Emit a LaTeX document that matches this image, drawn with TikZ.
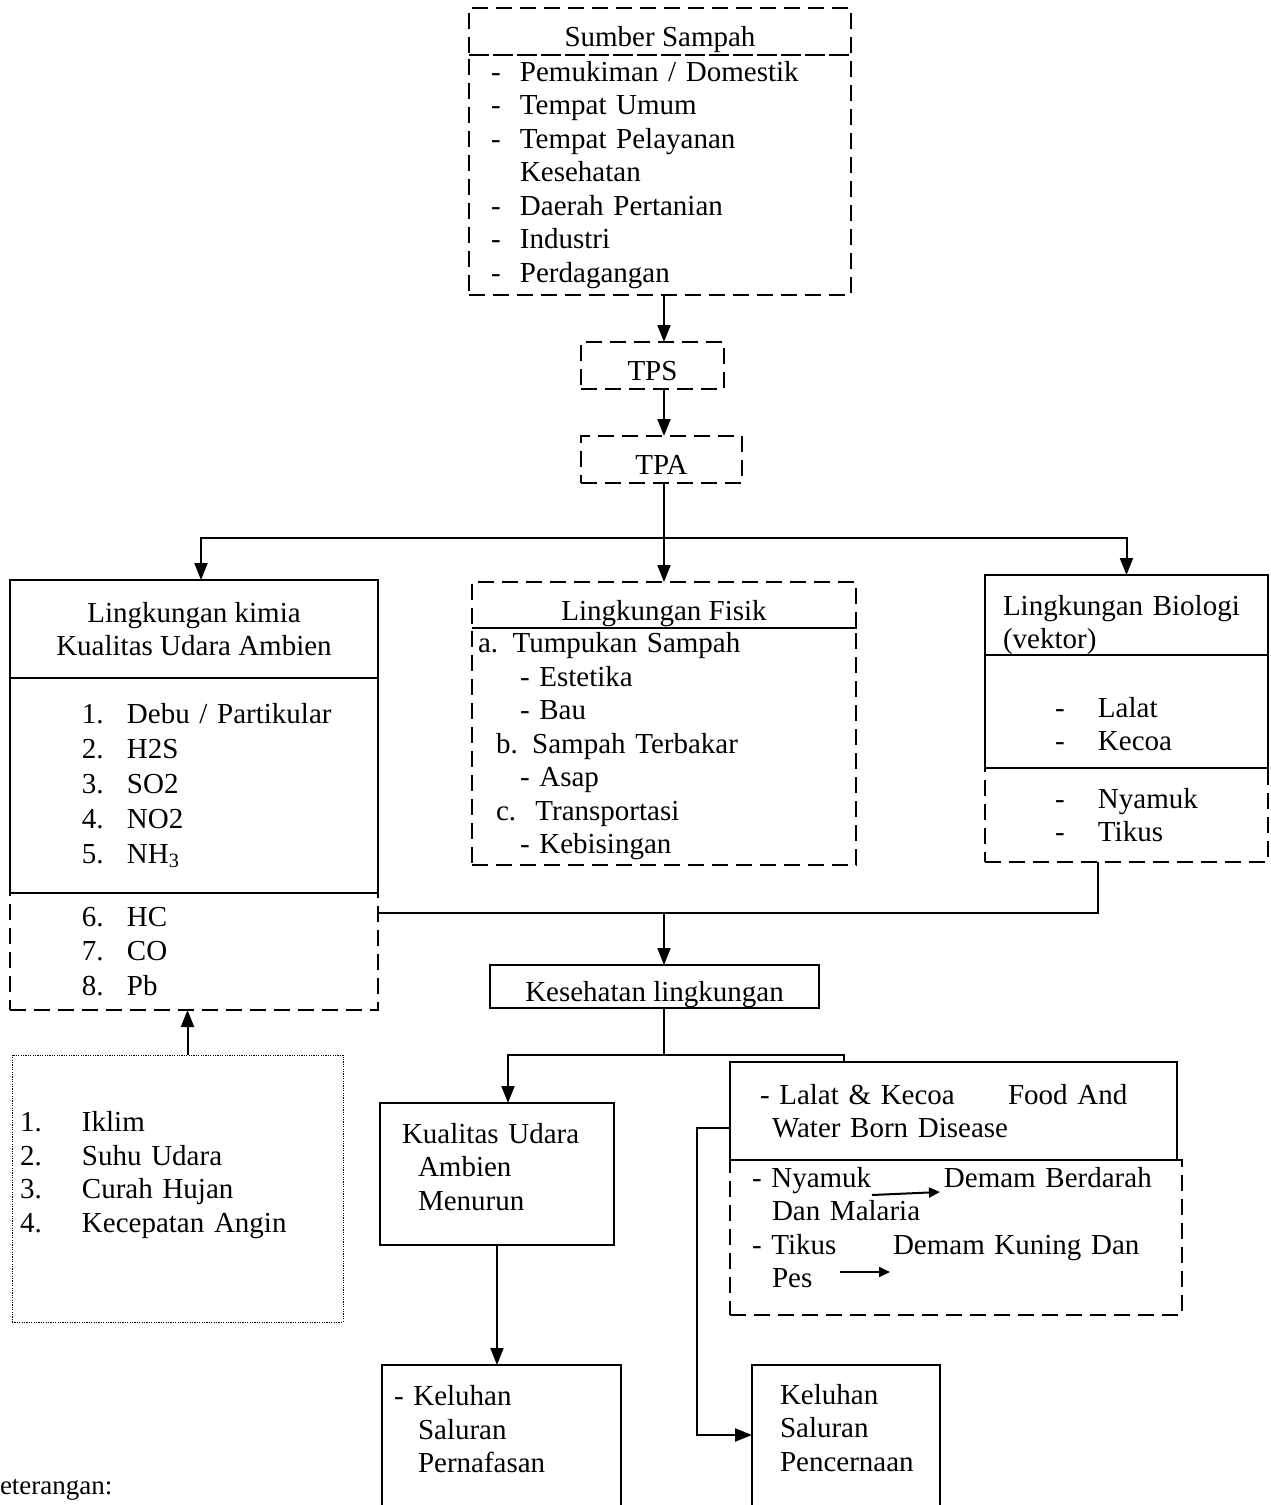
\documentclass[tikz,border=0pt]{standalone}
\usepackage{fontspec}
\setmainfont{Liberation Serif}
\usetikzlibrary{arrows.meta}

\newcommand{\nomor}[2]{\makebox[#1][l]{#2}}

\begin{document}
\begin{tikzpicture}[x=1pt, y=-1pt, >={Triangle[length=17pt,width=13pt]},
  every node/.style={font=\fontsize{29}{33.5}\selectfont, inner sep=0pt, outer sep=0pt},
  kotak/.style={draw, line width=2.2pt, anchor=north west},
  kotakputus/.style={kotak, line width=2.6pt, dash pattern=on 16pt off 8pt},
  kotaktitik/.style={draw, anchor=north west, line width=1pt, dash pattern=on 1.2pt off 1.2pt},
  kotakbuka/.style={anchor=north west},
  satubaris/.style={text height=30pt, text depth=0pt},
  garis/.style={line width=2pt},
  panah/.style={garis, ->},
  panahkecil/.style={line width=2pt, -{Triangle[length=11pt,width=10pt]}}]
\useasboundingbox (0,0) rectangle (1270,1505);

% Sumber sampah, TPS, TPA
\node[kotakputus, satubaris, minimum width=382pt, minimum height=47pt] (sumberjudul) at (469,8) {Sumber Sampah};
\node[kotakputus, minimum width=382pt, minimum height=240pt, align=left, text width=338pt, inner xsep=22pt] (sumberisi) at (469,55)
  {\nomor{29pt}{-}Pemukiman / Domestik\\ \nomor{29pt}{-}Tempat Umum\\ \nomor{29pt}{-}Tempat Pelayanan\\ \hspace*{29pt}Kesehatan\\
   \nomor{29pt}{-}Daerah Pertanian\\ \nomor{29pt}{-}Industri\\ \nomor{29pt}{-}Perdagangan};
\node[kotakputus, satubaris, minimum width=143pt, minimum height=47pt] (tps) at (581,342) {TPS};
\node[kotakputus, satubaris, minimum width=161pt, minimum height=47pt] (tpa) at (581,436) {TPA};

% Lingkungan kimia
\node[kotak, minimum width=368pt, minimum height=98pt, align=center] (kimiajudul) at (10,580) {Lingkungan kimia\\Kualitas Udara Ambien};
\node[kotak, minimum width=368pt, minimum height=215pt, align=left, text width=356pt, inner xsep=6pt, font=\fontsize{29}{35}\selectfont] (kimiaisi) at (10,678)
  {\hspace*{66pt}\nomor{45pt}{1.}Debu / Partikular\\ \hspace*{66pt}\nomor{45pt}{2.}H2S\\ \hspace*{66pt}\nomor{45pt}{3.}SO2\\
   \hspace*{66pt}\nomor{45pt}{4.}NO2\\ \hspace*{66pt}\nomor{45pt}{5.}NH\textsubscript{3}};
\node[kotakputus, minimum width=368pt, minimum height=117pt, align=left, text width=356pt, inner xsep=6pt, font=\fontsize{29}{34.5}\selectfont] (kimiatambah) at (10,893)
  {\hspace*{66pt}\nomor{45pt}{6.}HC\\ \hspace*{66pt}\nomor{45pt}{7.}CO\\ \hspace*{66pt}\nomor{45pt}{8.}Pb};

% Lingkungan fisik
\node[kotakputus, satubaris, minimum width=384pt, minimum height=46pt] (fisikjudul) at (472,582) {Lingkungan Fisik};
\node[kotakputus, minimum width=384pt, minimum height=237pt, align=left, text width=372pt, inner xsep=6pt] (fisikisi) at (472,628)
  {a. Tumpukan Sampah\\ \hspace*{42pt}- Estetika\\ \hspace*{42pt}- Bau\\ \hspace*{18pt}b. Sampah Terbakar\\
   \hspace*{42pt}- Asap\\ \hspace*{18pt}c.\ \ Transportasi\\ \hspace*{42pt}- Kebisingan};
\draw[line width=1.6pt] (fisikjudul.south west) -- (fisikjudul.south east);

% Lingkungan biologi
\node[kotak, minimum width=283pt, minimum height=80pt, align=left, text width=247pt, inner xsep=18pt] (biojudul) at (985,575)
  {\rule{0pt}{40pt}Lingkungan Biologi\\(vektor)};
\node[kotak, minimum width=283pt, minimum height=113pt, align=left, text width=271pt, inner xsep=6pt] (bioisi) at (985,655)
  {\mbox{}\\[12pt] \hspace*{64pt}\nomor{43pt}{-}Lalat\\ \hspace*{64pt}\nomor{43pt}{-}Kecoa};
\node[kotakputus, minimum width=283pt, minimum height=94pt, align=left, text width=271pt, inner xsep=6pt] (biotambah) at (985,768)
  {\hspace*{64pt}\nomor{43pt}{-}Nyamuk\\ \hspace*{64pt}\nomor{43pt}{-}Tikus};

% Kesehatan lingkungan dan dampaknya
\node[kotak, satubaris, minimum width=329pt, minimum height=43pt] (kesehatan) at (490,965) {Kesehatan lingkungan};
\node[kotak, minimum width=234pt, minimum height=142pt, align=left, text width=212pt, inner xsep=11pt] (kualitas) at (380,1103)
  {\hspace*{11pt}Kualitas Udara\\ \hspace*{27pt}Ambien\\ \hspace*{27pt}Menurun\\[-19pt] \mbox{}};
\node[kotak, minimum width=447pt, minimum height=98pt, align=left, text width=423pt, inner xsep=12pt] (lalat) at (730,1062)
  {\hspace*{18pt}\nomor{248pt}{- Lalat \& Kecoa}Food And\\ \hspace*{30pt}Water Born Disease};
\node[kotakputus, minimum width=452pt, minimum height=155pt, align=left, text width=428pt, inner xsep=12pt] (lalattambah) at (730,1160)
  {\hspace*{10pt}\nomor{192pt}{- Nyamuk}Demam Berdarah\\ \hspace*{30pt}Dan Malaria\\ \hspace*{10pt}\nomor{141pt}{- Tikus}Demam Kuning Dan\\ \hspace*{30pt}Pes\\[-13.5pt] \mbox{}};
\draw[panahkecil] ([shift={(142,35)}]lalattambah.north west) -- ++(68,-3);
\draw[panahkecil] ([shift={(110,112)}]lalattambah.north west) -- ++(50,0);

\node[kotakbuka, minimum width=239pt, minimum height=140pt, align=left, text width=227pt, inner xsep=6pt] (pernafasan) at (382,1365)
  {\hspace*{6pt}- Keluhan\\ \hspace*{30pt}Saluran\\ \hspace*{30pt}Pernafasan\\[-21.5pt] \mbox{}};
\draw[line width=2.2pt] (pernafasan.south west) -- (pernafasan.north west) -- (pernafasan.north east) -- (pernafasan.south east);
\node[kotakbuka, minimum width=188pt, minimum height=140pt, align=left, text width=160pt, inner xsep=14pt] (pencernaan) at (752,1365)
  {\hspace*{14pt}Keluhan\\ \hspace*{14pt}Saluran\\ \hspace*{14pt}Pencernaan\\[-19pt] \mbox{}};
\draw[line width=2.2pt] (pencernaan.south west) -- (pencernaan.north west) -- (pencernaan.north east) -- (pencernaan.south east);

% Faktor iklim
\node[kotaktitik, minimum width=331pt, minimum height=267pt, align=left, text width=315pt, inner xsep=8pt] (faktor) at (12,1055)
  {\nomor{62pt}{1.}Iklim\\ \nomor{62pt}{2.}Suhu Udara\\ \nomor{62pt}{3.}Curah Hujan\\ \nomor{62pt}{4.}Kecepatan Angin\\ \mbox{}};
\node[anchor=west, font=\fontsize{27}{30}\selectfont] (keterangan) at (0,1490) {eterangan:};

% Panah
\coordinate (cabang) at (664,538);
\coordinate (gabung) at (664,913);
\coordinate (cabangdua) at (664,1055);
\draw[panah] (sumberisi.south -| cabang) -- (tps.north -| cabang);
\draw[panah] (tps.south -| cabang) -- (tpa.north -| cabang);
\draw[garis] (tpa.south -| cabang) -- (cabang);
\draw[panah] (cabang) -| ([xshift=7pt]kimiajudul.north);
\draw[panah] (cabang) -- (fisikjudul.north);
\draw[panah] (cabang) -| (biojudul.north);
\draw[garis] ([xshift=-29pt]biotambah.south) |- (kimiatambah.east |- gabung);
\draw[panah] (gabung) -- (kesehatan.north -| gabung);
\draw[garis] (kesehatan.south -| cabangdua) -- (cabangdua);
\draw[panah] (cabangdua) -| ([xshift=11pt]kualitas.north);
\draw[garis] (cabangdua) -| ([xshift=-110pt]lalat.north);
\draw[panah] (kualitas.south) -- (kualitas.south |- pernafasan.north);
\draw[panah] ([yshift=-17pt]lalat.west) -- ++(-33,0) |- (pencernaan.west);
\draw[panah] ([xshift=10pt]faktor.north) -- ([xshift=10pt]faktor.north |- kimiatambah.south);
\end{tikzpicture}
\end{document}
